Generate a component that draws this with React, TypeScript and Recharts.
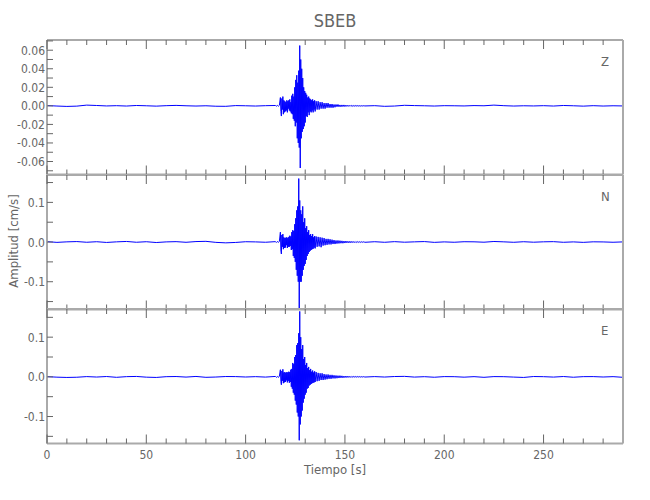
import React from 'react';
import { LineChart, Line, XAxis, YAxis } from 'recharts';

// sample times [s]: sparse where the trace is quiet, dense around the event
const time = [
  0, 5, 10, 15, 20, 25, 30, 35, 40, 45, 50, 55, 60, 65, 70, 75, 80, 85, 90, 95, 100, 105, 110,
  115, 115.5, 116, 116.5, 117,
  117.5, 117.75,
  118, 118.25, 118.5, 118.75, 119, 119.25, 119.5, 119.75,
  120, 120.25, 120.5, 120.75, 121, 121.25, 121.5, 121.75,
  122, 122.25, 122.5, 122.75, 123, 123.25, 123.5, 123.75,
  124, 124.25, 124.5, 124.75, 125, 125.25, 125.5, 125.75,
  126, 126.25, 126.5, 126.75, 127, 127.25, 127.5, 127.75,
  128, 128.25, 128.5, 128.75, 129, 129.25, 129.5, 129.75,
  130, 130.25, 130.5, 130.75, 131, 131.25, 131.5, 131.75,
  132, 132.25, 132.5, 132.75, 133, 133.25, 133.5, 133.75,
  134, 134.25, 134.5, 134.75,
  135, 135.5, 136, 136.5, 137, 137.5, 138, 138.5, 139, 139.5,
  140, 140.5, 141, 141.5, 142, 142.5, 143, 143.5, 144, 144.5,
  145, 145.5, 146, 146.5, 147, 147.5, 148, 148.5, 149, 149.5,
  150, 150.5, 151, 151.5, 152, 152.5, 153, 153.5, 154, 154.5,
  155, 155.5, 156, 156.5, 157, 157.5, 158, 158.5, 159, 159.5,
  160,
  165, 170, 175, 180, 185, 190, 195, 200, 205, 210, 215, 220, 225, 230, 235, 240, 245, 250,
  255, 260, 265, 270, 275, 280, 285, 290,
];

const zPre = [0.0003, -0.0002, -0.0006, -0.0003, 0.0008, 0.0004, -0.0001, 0.0002, -0.0002, 0.0004, 0.0001, -0.0003, 0.0002, 0.0005, 0.0001, -0.0002, 0.0001, -0.0004, -0.0005, 0.0003, 0.0001, -0.0002, 0.0002];
const zEvent = [
  0.0004, -0.0003, 0.0005, -0.0004, 0.0006,
  0.009, -0.006,
  -0.011, 0.008, -0.004, 0.01, -0.009, 0.006, -0.007, 0.005,
  -0.006, 0.004, -0.005, 0.006, -0.007, 0.005, -0.003, 0.006,
  -0.005, 0.007, -0.006, 0.004, -0.008, 0.011, -0.009, 0.013,
  -0.014, 0.01, -0.016, 0.02, -0.022, 0.028, -0.018, 0.033,
  -0.035, 0.025, -0.04, 0.038, -0.045, 0.065, -0.067, 0.05,
  -0.035, 0.04, -0.028, 0.03, -0.025, 0.02, -0.022, 0.016,
  -0.018, 0.014, -0.011, 0.012, -0.012, 0.009, -0.007, 0.01,
  -0.01, 0.008, -0.006, 0.007, -0.007, 0.006, -0.005, 0.007,
  -0.007, 0.005, -0.004, 0.006,
  -0.006, 0.005, -0.004, 0.005, -0.004, 0.004, -0.003, 0.004, -0.003, 0.003,
  -0.003, 0.003, -0.002, 0.003, -0.002, 0.002, -0.002, 0.002, -0.002, 0.0015,
  -0.0015, 0.0015, -0.001, 0.0015, -0.001, 0.001, -0.001, 0.001, -0.0008, 0.001,
  -0.0008, 0.0008, -0.0006, 0.0007, -0.0006, 0.0006, -0.0005, 0.0005, -0.0005, 0.0004,
  -0.0004, 0.0004, -0.0003, 0.0003, -0.0003, 0.0002, -0.0003, 0.0002, -0.0002, 0.0002,
  -0.0001,
];
const zPost = [0.0002, -0.0005, -0.0002, 0.0006, 0.0003, 0.0001, -0.0002, 0.0002, 0.0001, -0.0001, 0.0003, 0.0001, 0.0008, 0.0002, -0.0002, 0.0001, -0.0001, 0.0002, -0.0002, 0.0004, 0.0001, -0.0003, 0.0002, -0.0002, 0.0001, -0.0001];

const nPre = [0.001, -0.0008, 0.0005, 0.0012, -0.0005, 0.0008, -0.001, 0.0005, 0.0015, -0.0005, 0.0008, -0.0012, 0.0004, 0.001, -0.0006, 0.0012, 0.0018, -0.0008, -0.002, -0.001, 0.0008, 0.0004, -0.0005];
const nEvent = [
  0.001, -0.001, 0.0015, -0.001, 0.002,
  0.025, -0.02,
  -0.03, 0.018, -0.012, 0.02, -0.018, 0.012, -0.015, 0.01,
  -0.014, 0.011, -0.008, 0.012, -0.015, 0.01, -0.012, 0.013,
  -0.012, 0.016, -0.01, 0.014, -0.02, 0.025, -0.018, 0.03,
  -0.035, 0.028, -0.04, 0.045, -0.05, 0.06, -0.07, 0.08,
  -0.085, 0.09, -0.1, 0.16, -0.17, 0.105, -0.1, 0.08,
  -0.1, 0.07, -0.085, 0.09, -0.07, 0.05, -0.06, 0.06,
  -0.055, 0.035, -0.045, 0.04, -0.035, 0.025, -0.03, 0.03,
  -0.025, 0.018, -0.022, 0.02, -0.02, 0.015, -0.018, 0.02,
  -0.017, 0.012, -0.014, 0.015,
  -0.016, 0.014, -0.012, 0.013, -0.011, 0.012, -0.013, 0.011, -0.009, 0.01,
  -0.008, 0.008, -0.007, 0.008, -0.006, 0.007, -0.006, 0.006, -0.005, 0.005,
  -0.005, 0.004, -0.004, 0.004, -0.0035, 0.0035, -0.003, 0.003, -0.003, 0.0025,
  -0.0025, 0.0025, -0.002, 0.002, -0.002, 0.002, -0.0018, 0.0018, -0.0015, 0.0015,
  -0.0015, 0.0012, -0.0012, 0.0012, -0.001, 0.001, -0.001, 0.001, -0.0008, 0.0008,
  -0.0006,
];
const nPost = [0.0008, -0.0006, 0.001, -0.0004, 0.0005, 0.0012, -0.0008, 0.0004, -0.0005, 0.0008, 0.0006, -0.0004, 0.0014, 0.0005, -0.0006, 0.0008, -0.0004, 0.0006, 0.001, -0.0006, 0.0004, -0.0008, 0.0006, 0.0003, -0.0005, 0.0004];

const ePre = [0.0005, -0.0008, -0.0015, -0.001, 0.0006, -0.0005, 0.0008, -0.0012, 0.0005, 0.001, -0.0008, -0.0015, 0.0004, 0.0008, -0.0006, 0.001, -0.0012, -0.0005, 0.0008, 0.0006, -0.0004, 0.0005, -0.0006];
const eEvent = [
  0.001, -0.0012, 0.001, -0.0015, 0.002,
  0.018, -0.012,
  -0.02, 0.015, -0.01, 0.019, -0.016, 0.011, -0.014, 0.012,
  -0.013, 0.01, -0.009, 0.012, -0.014, 0.011, -0.01, 0.013,
  -0.015, 0.012, -0.013, 0.018, -0.025, 0.02, -0.03, 0.035,
  -0.04, 0.032, -0.045, 0.05, -0.06, 0.055, -0.07, 0.08,
  -0.09, 0.085, -0.1, 0.11, -0.16, 0.165, -0.12, 0.1,
  -0.1, 0.07, -0.085, 0.08, -0.065, 0.045, -0.055, 0.05,
  -0.045, 0.03, -0.04, 0.035, -0.03, 0.022, -0.028, 0.025,
  -0.022, 0.017, -0.02, 0.02, -0.018, 0.013, -0.016, 0.016,
  -0.015, 0.011, -0.014, 0.014,
  -0.013, 0.012, -0.011, 0.01, -0.01, 0.009, -0.008, 0.009, -0.008, 0.007,
  -0.007, 0.006, -0.006, 0.006, -0.005, 0.005, -0.005, 0.005, -0.004, 0.004,
  -0.004, 0.0035, -0.0035, 0.003, -0.003, 0.003, -0.0025, 0.0025, -0.0025, 0.002,
  -0.002, 0.002, -0.0018, 0.0018, -0.0015, 0.0015, -0.0015, 0.0012, -0.0012, 0.0012,
  -0.001, 0.001, -0.001, 0.001, -0.0008, 0.0008, -0.0008, 0.0006, -0.0006, 0.0006,
  -0.0005,
];
const ePost = [0.0006, -0.0005, 0.0008, 0.0012, -0.0006, 0.0004, -0.001, 0.0006, 0.0004, -0.0008, 0.0005, -0.0012, 0.0006, 0.0004, -0.0006, -0.0015, 0.0008, 0.0004, -0.0006, 0.0008, -0.001, 0.0005, 0.0006, -0.0004, 0.0005, -0.0012];

const xTicks = [0, 10, 20, 30, 40, 50, 60, 70, 80, 90, 100, 110, 120, 130, 140, 150, 160, 170, 180, 190, 200, 210, 220, 230, 240, 250, 260, 270, 280];
const xLabels = [0, 50, 100, 150, 200, 250];
const zTicks = [-0.07, -0.06, -0.05, -0.04, -0.03, -0.02, -0.01, 0, 0.01, 0.02, 0.03, 0.04, 0.05, 0.06, 0.07];
const zLabels = [-0.06, -0.04, -0.02, 0, 0.02, 0.04, 0.06];
const hTicks = [-0.15, -0.1, -0.05, 0, 0.05, 0.1, 0.15];
const hLabels = [-0.1, 0, 0.1];

const zs = [...zPre, ...zEvent, ...zPost];
const ns = [...nPre, ...nEvent, ...nPost];
const es = [...ePre, ...eEvent, ...ePost];
const rows = time.map((t, i) => ({ t, z: zs[i], n: ns[i], e: es[i] }));

const FONT = "'DejaVu Sans', sans-serif";
const TXT = '#666';
const TICK = '#666';
const frame = { stroke: '#aaa', strokeWidth: 2 };
const PANEL_H = 134.5;

const near = (list: number[], v: number) => list.some((l) => Math.abs(l - v) < 1e-9);

const BottomTick = ({ x, y, payload, showLabel }: any) => {
  const major = near(xLabels, payload.value);
  return (
    <g>
      <line x1={x} y1={y} x2={x} y2={y - (major ? 9 : 5)} stroke={TICK} />
      {showLabel && major && (
        <text x={x} y={y + 15} textAnchor="middle" fontSize={12} fill={TXT} fontFamily={FONT} style={{ fontStretch: 'condensed' }}>
          {payload.value}
        </text>
      )}
    </g>
  );
};

const TopTick = ({ x, y, payload }: any) => {
  const major = near(xLabels, payload.value);
  return <line x1={x} y1={y} x2={x} y2={y + (major ? 9 : 5)} stroke={TICK} />;
};

const LeftTick = ({ x, y, payload, labels, decimals }: any) => (
  <g>
    <line x1={x} y1={y} x2={x + 6} y2={y} stroke={TICK} />
    {near(labels, payload.value) && (
      <text x={x - 2} y={y + 4.5} textAnchor="end" fontSize={12} fill={TXT} fontFamily={FONT} style={{ fontStretch: 'condensed' }}>
        {payload.value.toFixed(decimals)}
      </text>
    )}
  </g>
);

const RightTick = ({ x, y }: any) => <line x1={x} y1={y} x2={x - 6} y2={y} stroke={TICK} />;

interface PanelProps {
  top: number;
  dataKey: string;
  domain: [number, number];
  ticks: number[];
  labels: number[];
  decimals: number;
  letter: string;
  showX?: boolean;
}

const Panel = ({ top, dataKey, domain, ticks, labels, decimals, letter, showX }: PanelProps) => {
  const extra = showX ? 24 : 1;
  const h = PANEL_H + extra + 1;
  return (
    <div style={{ position: 'absolute', left: 0, top: top - 1, width: 650, height: h }}>
      <LineChart width={650} height={h} data={rows} margin={{ top: 0, right: 0, bottom: 0, left: 0 }}>
        <XAxis
          xAxisId="b"
          dataKey="t"
          type="number"
          domain={[0, 290]}
          ticks={xTicks}
          interval={0}
          height={extra}
          tickSize={0}
          tickMargin={0}
          tickLine={false}
          axisLine={frame}
          tick={(p: any) => <BottomTick {...p} showLabel={showX} />}
        />
        <XAxis
          xAxisId="t"
          orientation="top"
          dataKey="t"
          type="number"
          domain={[0, 290]}
          ticks={xTicks}
          interval={0}
          height={1}
          tickSize={0}
          tickMargin={0}
          tickLine={false}
          axisLine={frame}
          tick={(p: any) => <TopTick {...p} />}
        />
        <YAxis
          yAxisId="l"
          type="number"
          domain={domain}
          ticks={ticks}
          interval={0}
          width={47}
          tickSize={0}
          tickMargin={0}
          tickLine={false}
          axisLine={frame}
          tick={(p: any) => <LeftTick {...p} labels={labels} decimals={decimals} />}
        />
        <YAxis
          yAxisId="r"
          orientation="right"
          type="number"
          domain={domain}
          ticks={ticks}
          interval={0}
          width={27}
          tickSize={0}
          tickMargin={0}
          tickLine={false}
          axisLine={frame}
          tick={(p: any) => <RightTick {...p} />}
        />
        <Line
          xAxisId="b"
          yAxisId="l"
          type="linear"
          dataKey={dataKey}
          stroke="#0000ff"
          strokeWidth={1}
          dot={false}
          isAnimationActive={false}
        />
      </LineChart>
      <div style={{ position: 'absolute', left: 601, top: 15, fontSize: 13, color: TXT, fontFamily: FONT, fontStretch: 'condensed' }}>{letter}</div>
    </div>
  );
};

export default function App() {
  return (
    <div style={{ position: 'absolute', left: 0, top: 0, width: 650, height: 500, background: '#fff', fontFamily: FONT, fontStretch: 'condensed' }}>
      <style>{'.recharts-surface{overflow:visible}'}</style>
      <div style={{ position: 'absolute', left: 335, top: 20, transform: 'translate(-50%,-50%)', fontSize: 18, color: TXT }}>SBEB</div>
      <Panel top={40} dataKey="z" domain={[-0.074, 0.071]} ticks={zTicks} labels={zLabels} decimals={2} letter="Z" />
      <Panel top={40 + PANEL_H} dataKey="n" domain={[-0.166, 0.169]} ticks={hTicks} labels={hLabels} decimals={1} letter="N" />
      <Panel top={40 + 2 * PANEL_H} dataKey="e" domain={[-0.168, 0.171]} ticks={hTicks} labels={hLabels} decimals={1} letter="E" showX />
      <div
        style={{
          position: 'absolute',
          left: 13,
          top: 241,
          transform: 'translate(-50%,-50%) rotate(-90deg)',
          whiteSpace: 'nowrap',
          fontSize: 13,
          color: TXT,
        }}
      >
        Amplitud [cm/s]
      </div>
      <div style={{ position: 'absolute', left: 335, top: 469, transform: 'translate(-50%,-50%)', whiteSpace: 'nowrap', fontSize: 13, color: TXT }}>
        Tiempo [s]
      </div>
    </div>
  );
}
